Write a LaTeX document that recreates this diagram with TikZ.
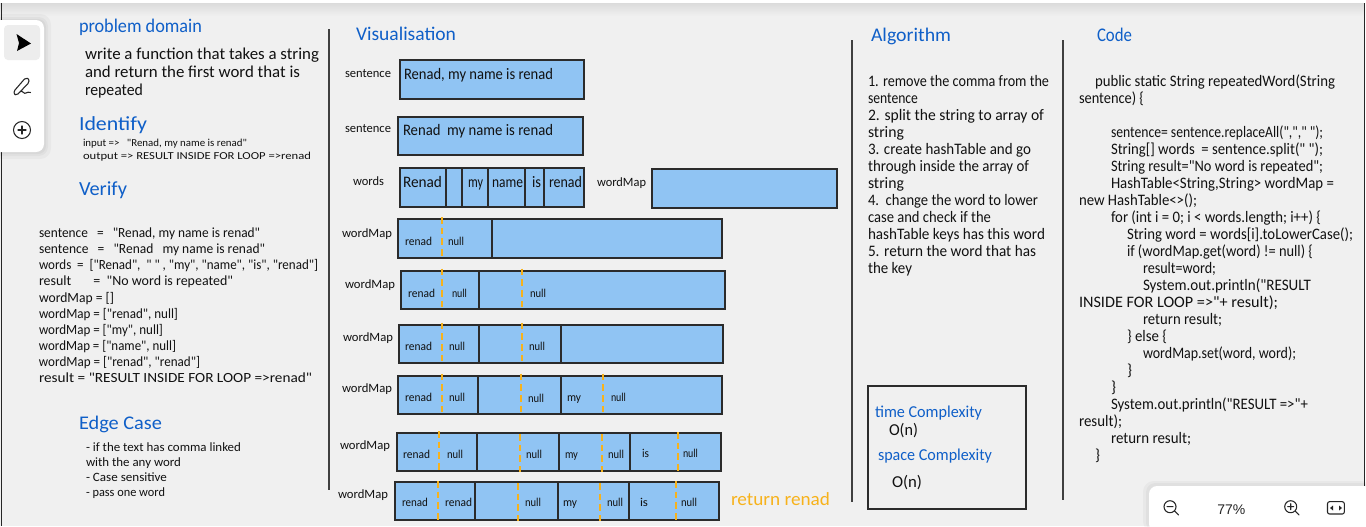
\documentclass[tikz,border=0pt]{standalone}
\usepackage{fontspec}
\usepackage{graphicx}
\setmainfont{Carlito}
\newfontfamily\handfont{Carlito}
\newfontfamily\uifont{Liberation Sans}
\definecolor{bgc}{HTML}{F0F0F0}
\definecolor{headc}{HTML}{0F5FC8}
\definecolor{inkc}{HTML}{111111}
\definecolor{cellc}{HTML}{90C4F3}
\definecolor{edgec}{HTML}{2B2B2B}
\definecolor{orangec}{HTML}{F7B21B}
\newcounter{lnc}
% \Ln[colour]{size pt}{x0}{x1}{baseline y}{text}: one line of text fitted to x0..x1
\newcommand\Ln[6][inkc]{%
  \stepcounter{lnc}%
  \pgfmathsetlengthmacro\lnw{(#4-#3)*0.75}%
  \node[linetext,text=#1,font=\handfont\fontsize{#2}{#2}\selectfont] (t\arabic{lnc}) at (#3,#5) {\resizebox{\lnw}{\height}{#6}};}
\newcommand\Bx[4]{\draw[cellbox] (#1,#2) rectangle (#3,#4);}
\newcommand\Dv[3]{\draw[divider] (#1,#2) -- (#1,#3);}
\newcommand\Ds[3]{\draw[keydash] (#1,#2) -- (#1,#3);}
\tikzset{
  linetext/.style={anchor=base west,inner sep=0pt,outer sep=0pt},
  cellbox/.style={draw=edgec,fill=cellc,line width=1.5pt},
  divider/.style={draw=edgec,line width=1.5pt},
  keydash/.style={draw=orangec,line width=1.6pt,dash pattern=on 5pt off 3pt},
  rule/.style={draw=black!75,line width=1.5pt},
  icon/.style={draw=black!85,line width=.8pt,line cap=round,line join=round}
}
\begin{document}
\begin{tikzpicture}[x=0.75pt,y=-0.75pt]
\useasboundingbox (0,0) rectangle (1366,526);
\fill[bgc] (0,0) rectangle (1366,526);
\fill[white] (0,0) rectangle (1366,3);
\shade[top color=black!14,bottom color=bgc] (0,3) rectangle (1366,16);
\fill[white] (1365.2,0) rectangle (1366,526);
\draw[black!85,line width=.9pt] (1.5,3) -- (1.5,526);
\draw[black!85,line width=.9pt] (1364.5,3) -- (1364.5,526);
% column rules
\draw[rule] (329,29) -- (329,490);
\draw[rule] (852,40) -- (852,502);
\draw[rule] (1063,40) -- (1063,500);
% problem column
\Ln[headc]{14.5}{79}{202}{32}{problem domain}
\Ln{12.5}{85}{319}{59}{write a function that takes a string}
\Ln{12.5}{85}{300}{77}{and return the first word that is}
\Ln{12.5}{85}{143}{95}{repeated}
\Ln[headc]{15}{79}{147}{130}{Identify}
\Ln{8}{83}{247}{146}{input =>~~~"Renad, my name is renad"}
\Ln{8}{83}{311}{159}{output => RESULT INSIDE FOR LOOP =>renad}
\Ln[headc]{15}{79}{127}{195}{Verify}
\Ln{10.5}{39}{260}{237}{sentence~~~=~~~"Renad, my name is renad"}
\Ln{10.5}{39}{265}{253}{sentence~~~=~~~"Renad~~~my name is renad"}
\Ln{10.5}{39}{318}{269}{words~~=~~["Renad",~~" " , "my", "name", "is", "renad"]}
\Ln{10.5}{39}{233}{285}{result~~~~~~~=~~"No word is repeated"}
\Ln{10.5}{39}{114}{302}{wordMap = []}
\Ln{10.5}{39}{178}{318}{wordMap = ["renad", null]}
\Ln{10.5}{39}{163}{334}{wordMap = ["my", null]}
\Ln{10.5}{39}{176}{350}{wordMap = ["name", null]}
\Ln{10.5}{39}{200}{366}{wordMap = ["renad", "renad"]}
\Ln{10.5}{39}{312}{382}{result = "RESULT INSIDE FOR LOOP =>renad"}
\Ln[headc]{14.5}{79}{162}{429}{Edge Case}
\Ln{9.5}{86}{241}{451}{- if the text has comma linked}
\Ln{9.5}{86}{181}{466}{with the any word}
\Ln{9.5}{86}{167}{481}{- Case sensitive}
\Ln{9.5}{86}{165}{496}{- pass one word}
% visualisation
\Ln[headc]{14.5}{356}{456}{40}{Visualisation}
\Ln{9.5}{345}{391}{77}{sentence}
\Bx{400}{60}{584}{99}
\Ln{12}{404}{553}{79}{Renad, my name is renad}
\Ln{9.5}{345}{391}{132}{sentence}
\Bx{398}{117}{583}{155}
\Ln{12}{403}{553}{135}{Renad~~my name is renad}
\Ln{9.5}{353}{384}{185}{words}
\Bx{400}{168}{584}{206.5}
\Dv{445.5}{168}{206.5}\Dv{461.5}{168}{206.5}\Dv{487.5}{168}{206.5}\Dv{524.5}{168}{206.5}\Dv{544}{168}{206.5}
\Ln{12}{403}{442}{187}{Renad}
\Ln{12}{468}{483}{187}{my}
\Ln{12}{492}{523}{187}{name}
\Ln{12}{532}{541}{187}{is}
\Ln{12}{549}{582}{187}{renad}
\Ln{9.5}{597}{646}{186}{wordMap}
\Bx{652}{168.5}{837}{207.5}
% row 1
\Ln{9.5}{342}{392}{237}{wordMap}
\Bx{398}{219}{722}{257.5}
\Dv{492.3}{219}{257.5}
\Ds{442.3}{217}{258}
\Ln{9}{405}{432}{245}{renad}\Ln{9}{448}{464}{245}{null}
% row 2
\Ln{9.5}{345}{395}{288}{wordMap}
\Bx{400.5}{270.5}{724.5}{309}
\Dv{479}{270.5}{309}
\Ds{442.3}{268.5}{309.5}\Ds{522.3}{268.5}{309.5}
\Ln{9}{408}{435}{297}{renad}\Ln{9}{452}{467}{297}{null}\Ln{9}{530}{546}{297}{null}
% row 3
\Ln{9.5}{343}{393}{341}{wordMap}
\Bx{399}{324.5}{723}{363}
\Dv{479}{324.5}{363}\Dv{561.3}{324.5}{363}
\Ds{442.3}{322.5}{364}\Ds{522.3}{322.5}{364}
\Ln{9}{405}{432}{350}{renad}\Ln{9}{449}{465}{350}{null}\Ln{9}{529}{545}{350}{null}
% row 4
\Ln{9.5}{342}{392}{392}{wordMap}
\Bx{398}{375.5}{722}{414}
\Dv{478.3}{375.5}{414}\Dv{561.3}{375.5}{415}
\Ds{442}{373.5}{415}\Ds{521.3}{373.5}{415}\Ds{603.3}{373.5}{415}
\Ln{9}{405}{432}{401}{renad}\Ln{9}{449}{465}{401}{null}\Ln{9}{528}{544}{402}{null}\Ln{9}{567}{581}{401}{my}\Ln{9}{611}{626}{401}{null}
% row 5
\Ln{9.5}{340}{390}{449}{wordMap}
\Bx{397}{432.5}{720.5}{470.5}
\Dv{477}{432.5}{470.5}\Dv{559.3}{432.5}{472}\Dv{630.3}{432.5}{470.5}
\Ds{439.3}{431}{471}\Ds{520}{434}{472}\Ds{601.7}{434}{472}\Ds{678.3}{432}{472}
\Ln{9}{403}{430}{458}{renad}\Ln{9}{447}{463}{458}{null}\Ln{9}{526}{542}{458}{null}\Ln{9}{565}{578}{458}{my}\Ln{9}{608}{624}{458}{null}\Ln{9}{642}{649}{457}{is}\Ln{9}{683}{698}{457}{null}
% row 6
\Ln{9.5}{338}{388}{498}{wordMap}
\Bx{394.5}{481.5}{718.5}{519.5}
\Dv{475.3}{481.5}{521}\Dv{558}{481.5}{521}\Dv{628.7}{481.5}{519.5}
\Ds{437.7}{481}{520.5}\Ds{517.7}{483}{521}\Ds{600}{483}{521}\Ds{676.3}{481}{521}
\Ln{9}{402}{428}{506}{renad}\Ln{9}{445}{472}{506}{renad}\Ln{9}{525}{541}{506}{null}\Ln{9}{563}{577}{506}{my}\Ln{9}{607}{623}{506}{null}\Ln{9}{640}{648}{506}{is}\Ln{9}{681}{697}{506}{null}
\Ln[orangec]{14}{731}{830}{505}{return renad}
% algorithm
\Ln[headc]{14.5}{871}{951}{41}{Algorithm}
\Ln{12}{868}{1049}{86}{1. remove the comma from the}
\Ln{12}{868}{918}{103}{sentence}
\Ln{12}{868}{1044}{120}{2. split the string to array of}
\Ln{12}{868}{904}{137}{string}
\Ln{12}{868}{1031}{154}{3. create hashTable and go}
\Ln{12}{868}{1029}{171}{through inside the array of}
\Ln{12}{868}{904}{188}{string}
\Ln{12}{868}{1038}{205}{4.~~change the word to lower}
\Ln{12}{868}{991}{222}{case and check if the}
\Ln{12}{868}{1045}{239}{hashTable keys has this word}
\Ln{12}{868}{1036}{256}{5. return the word that has}
\Ln{12}{868}{912}{273}{the key}
% complexity
\draw[draw=edgec,line width=1.5pt] (868,386) rectangle (1025.5,509);
\Ln[headc]{12.5}{875}{982}{417}{time Complexity}
\Ln{12.5}{889}{918}{435}{O(n)}
\Ln[headc]{12.5}{878}{992}{460}{space Complexity}
\Ln{12.5}{892}{922}{487}{O(n)}
% code
\Ln[headc]{14.5}{1097}{1132}{41}{Code}
\Ln{12}{1095}{1335}{86}{public static String repeatedWord(String}
\Ln{12}{1079}{1144}{103}{sentence) \{}
\Ln{12}{1111}{1323}{137}{sentence= sentence.replaceAll(","," ");}
\Ln{12}{1111}{1323}{154}{String[] words~~= sentence.split(" ");}
\Ln{12}{1111}{1323}{171}{String result="No word is repeated";}
\Ln{12}{1111}{1334}{188}{HashTable<String,String> wordMap =}
\Ln{12}{1079}{1197}{205}{new HashTable<>();}
\Ln{12}{1111}{1321}{222}{for (int i = 0; i < words.length; i++) \{}
\Ln{12}{1127}{1353}{239}{String word = words[i].toLowerCase();}
\Ln{12}{1127}{1313}{256}{if (wordMap.get(word) != null) \{}
\Ln{12}{1143}{1216}{273}{result=word;}
\Ln{12}{1143}{1311}{290}{System.out.println("RESULT}
\Ln{12}{1079}{1278}{307}{INSIDE FOR LOOP =>"+ result);}
\Ln{12}{1143}{1222}{324}{return result;}
\Ln{12}{1127}{1167}{341}{\} else \{}
\Ln{12}{1143}{1296}{358}{wordMap.set(word, word);}
\Ln{12}{1127}{1132}{375}{\}}
\Ln{12}{1111}{1116}{392}{\}}
\Ln{12}{1111}{1308}{409}{System.out.println("RESULT =>"+}
\Ln{12}{1079}{1122}{426}{result);}
\Ln{12}{1111}{1191}{443}{return result;}
\Ln{12}{1095}{1100}{460}{\}}
% left toolbar
\fill[black,opacity=.03,rounded corners=8pt] (-8,14) rectangle (51,159);
\fill[black,opacity=.03,rounded corners=7pt] (-8,17) rectangle (48,156);
\fill[black,opacity=.03,rounded corners=6pt] (-8,19) rectangle (46,154);
\fill[white,rounded corners=6pt] (-8,20) rectangle (44,152);
\fill[black!7,rounded corners=3pt] (4,25) rectangle (40,60);
\fill[black] (16.5,34) -- (31,43.5) -- (17,51) -- (19,43) -- cycle;
\draw[icon] (15,90) -- (24.5,79) .. controls (26,77.5) and (29,78) .. (29,81) .. controls (29,82) and (28.5,83) .. (28,83.5) -- (18,94) .. controls (16,95.5) and (13.5,95) .. (14,92.5) -- (15,90) (18,94) .. controls (21,90) and (23,91) .. (23.5,92.5) .. controls (25,95) and (27,91) .. (30.5,92.5);
\draw[icon] (22,130) circle (8.5);
\draw[icon] (18,130) -- (26,130) (22,126) -- (22,134);
% bottom panel
\fill[black,opacity=.03,rounded corners=8pt] (1143,481) rectangle (1372,532);
\fill[black,opacity=.03,rounded corners=7pt] (1146,483) rectangle (1372,532);
\fill[white,rounded corners=6pt] (1149,486) rectangle (1372,532);
\draw[icon] (1170,506.7) circle (6) (1174.5,511) -- (1178.5,515) (1167,506.7) -- (1173,506.7);
\node[linetext,font=\uifont\fontsize{10.5}{10.5}\selectfont,text=black!85] (zoomlabel) at (1217.3,514) {77\%};
\draw[icon] (1290.7,506.7) circle (6) (1295.2,511) -- (1299,515) (1287.7,506.7) -- (1293.7,506.7) (1290.7,503.7) -- (1290.7,509.7);
\draw[icon,rounded corners=1.5pt] (1327.5,501.7) rectangle (1344.3,514);
\fill[black!85] (1330,508) -- (1333,505.5) -- (1333,510.5) -- cycle (1342,508) -- (1339,505.5) -- (1339,510.5) -- cycle;
\end{tikzpicture}
\end{document}
